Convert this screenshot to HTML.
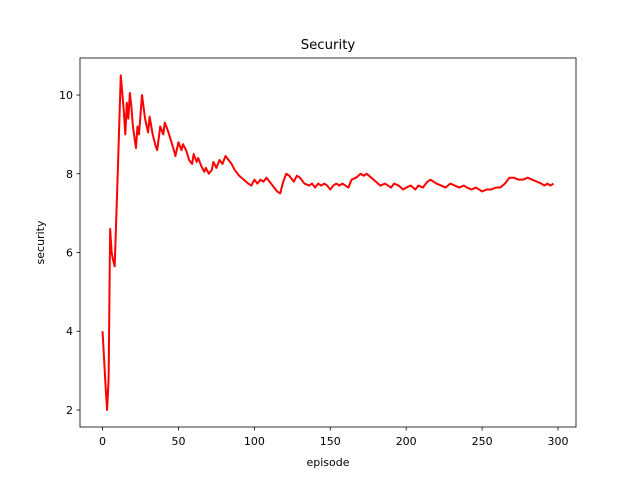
<!DOCTYPE html>
<html><head><meta charset="utf-8"><style>body{margin:0;background:#fff}svg{display:block}text{font-family:"DejaVu Sans","Liberation Sans",sans-serif;fill:#000}</style></head>
<body>
<svg id="chart" width="640" height="480" xmlns="http://www.w3.org/2000/svg"></svg>
<script>
const episodes=[0,2,3,4,5,6,7,8,10,12,14,15,16,17,18,19,20,22,23,24,26,28,30,31,33,35,36,38,40,41,43,45,47,48,50,52,53,55,57,59,60,62,63,65,67,68,70,72,73,75,77,79,81,83,85,87,90,93,96,98,100,102,104,106,108,110,113,115,117,119,121,123,126,128,130,133,136,138,140,142,144,146,148,150,152,154,156,158,160,162,164,167,170,172,174,177,180,183,186,188,190,192,195,198,200,203,206,208,211,214,216,220,223,226,229,232,235,238,240,243,246,250,253,256,259,262,265,268,271,274,277,280,283,286,289,291,293,295,297];
const security=[4.0,2.6,2.0,2.8,6.6,6.0,5.8,5.65,8.0,10.5,9.6,9.0,9.8,9.4,10.05,9.7,9.2,8.65,9.2,9.0,10.0,9.4,9.05,9.45,9.0,8.7,8.6,9.2,9.0,9.3,9.1,8.85,8.6,8.45,8.8,8.6,8.75,8.6,8.35,8.25,8.5,8.3,8.4,8.2,8.05,8.15,8.0,8.1,8.3,8.15,8.35,8.25,8.45,8.35,8.25,8.1,7.95,7.85,7.75,7.7,7.85,7.75,7.85,7.8,7.9,7.8,7.65,7.55,7.5,7.8,8.0,7.95,7.8,7.95,7.9,7.75,7.7,7.75,7.65,7.75,7.7,7.75,7.7,7.6,7.7,7.75,7.7,7.75,7.7,7.65,7.85,7.9,8.0,7.95,8.0,7.9,7.8,7.7,7.75,7.7,7.65,7.75,7.7,7.6,7.65,7.7,7.6,7.7,7.65,7.8,7.85,7.75,7.7,7.65,7.75,7.7,7.65,7.7,7.65,7.6,7.65,7.55,7.6,7.6,7.65,7.65,7.75,7.9,7.9,7.85,7.85,7.9,7.85,7.8,7.75,7.7,7.75,7.7,7.75];
const xTicks=[0,50,100,150,200,250,300];
const yTicks=[2,4,6,8,10];
const L=80,R=576,T=58,B=427;
const xmin=-14.85,xmax=311.85,ymin=1.568,ymax=10.94;
const sx=v=>L+(v-xmin)/(xmax-xmin)*(R-L);
const sy=v=>B-(v-ymin)/(ymax-ymin)*(B-T);
const svg=document.getElementById('chart');const NS='http://www.w3.org/2000/svg';
function mk(t,a,p){const e=document.createElementNS(NS,t);for(const k in a)e.setAttribute(k,a[k]);(p||svg).appendChild(e);return e;}
const line=mk('polyline',{points:episodes.map((e,i)=>sx(e)+','+sy(security[i])).join(' '),fill:'none',stroke:'#ff0000','stroke-width':2,'stroke-linejoin':'round'});


const frame=mk('rect',{x:L,y:T,width:R-L,height:B-T,fill:'none',stroke:'#000','stroke-width':0.8});


xTicks.forEach(v=>{const x=sx(v);mk('line',{x1:x,x2:x,y1:B,y2:B+3.5,stroke:'#000','stroke-width':0.8});
const t=mk('text',{x:x,y:B+18,'text-anchor':'middle','font-size':11});t.textContent=v;

});
yTicks.forEach(v=>{const y=sy(v);mk('line',{x1:L-3.5,x2:L,y1:y,y2:y,stroke:'#000','stroke-width':0.8});
const t=mk('text',{x:L-7,y:y+4,'text-anchor':'end','font-size':11});t.textContent=v;

});
const ti=mk('text',{x:(L+R)/2,y:49,'text-anchor':'middle','font-size':13.3});ti.textContent='Security';


const xl=mk('text',{x:(L+R)/2,y:466,'text-anchor':'middle','font-size':11});xl.textContent='episode';


const yl=mk('text',{x:44,y:(T+B)/2,'text-anchor':'middle','font-size':11,transform:'rotate(-90 44 '+(T+B)/2+')'});yl.textContent='security';


</script>
</body></html>
